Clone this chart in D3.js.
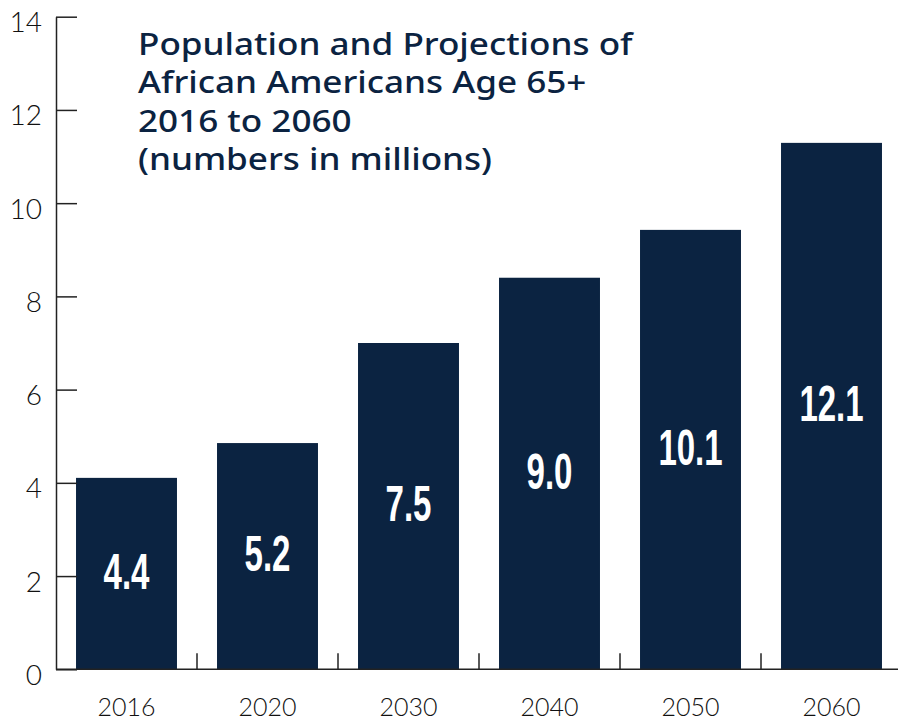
<!DOCTYPE html>
<html>
<head>
<meta charset="utf-8">
<script src="https://cdn.jsdelivr.net/npm/d3@7"></script>
<style>
  html, body { margin: 0; padding: 0; background: #ffffff; }
  svg { display: block; }
</style>
</head>
<body>
<svg id="chart" width="898" height="723"></svg>
<script>
// Population of African Americans age 65+, in millions
const years = ["2016", "2020", "2030", "2040", "2050", "2060"];
const population = [4.4, 5.2, 7.5, 9.0, 10.1, 12.1];
const valueLabels = ["4.4", "5.2", "7.5", "9.0", "10.1", "12.1"];
const axisTicks = [0, 2, 4, 6, 8, 10, 12, 14];
const titleLines = [
  "Population and Projections of",
  "African Americans Age 65+",
  "2016 to 2060",
  "(numbers in millions)"
];

const navy = "#0b2341";
const axisColor = "#222222";

const svg = d3.select("#chart");
const plotLeft = 56, plotRight = 902, plotTop = 16.7, plotBottom = 669.3;

// Horizontal bands, one per year
const x = d3.scaleBand()
  .domain(years)
  .range([plotLeft, plotRight])
  .paddingInner(0.284)
  .paddingOuter(0.142);

// Axis scale for the printed tick labels
const yAxisScale = d3.scaleLinear().domain([0, 14]).range([plotBottom, plotTop]);
// Bar heights are laid out on a 0–15 domain across the same plot height
const yBar = d3.scaleLinear().domain([0, 15]).range([plotBottom, plotTop]);

// Bars
svg.append("g")
  .selectAll("rect")
  .data(population)
  .join("rect")
  .attr("x", (d, i) => x(years[i]))
  .attr("y", d => yBar(d))
  .attr("width", x.bandwidth())
  .attr("height", d => yBar(0) - yBar(d))
  .attr("fill", navy);

// Value labels centred in each bar, in a condensed bold face
svg.append("g")
  .selectAll("text")
  .data(population)
  .join("text")
  .attr("transform", (d, i) => {
    const cx = x(years[i]) + x.bandwidth() / 2;
    const cy = (yBar(d) + yBar(0)) / 2 + 15;
    return `translate(${cx},${cy}) scale(0.66,1)`;
  })
  .attr("text-anchor", "middle")
  .attr("fill", "#ffffff")
  .attr("font-family", "'Liberation Sans', Arial, sans-serif")
  .attr("font-weight", "bold")
  .attr("font-size", 50)
  .text((d, i) => valueLabels[i]);

// Y axis with ticks pointing into the plot
const yAxis = d3.axisLeft(yAxisScale)
  .tickValues(axisTicks)
  .tickFormat(d3.format("d"))
  .tickSizeInner(-21)
  .tickSizeOuter(0)
  .tickPadding(14);

const gy = svg.append("g")
  .attr("transform", `translate(${plotLeft},0)`)
  .call(yAxis);
gy.select(".domain").attr("stroke", axisColor).attr("stroke-width", 1.5);
gy.selectAll(".tick line").attr("stroke", axisColor).attr("stroke-width", 1.5);
gy.selectAll(".tick text")
  .attr("dy", 15)
  .attr("fill", "#111111")
  .attr("font-family", "Lato, 'Open Sans', sans-serif")
  .attr("font-weight", 300)
  .attr("font-size", 28);

// X axis: baseline with short upward ticks between the bars
const xBoundary = d3.scaleLinear().domain([0, years.length]).range([plotLeft, plotRight]);
const gx = svg.append("g");
gx.append("line")
  .attr("x1", plotLeft).attr("x2", plotRight)
  .attr("y1", plotBottom).attr("y2", plotBottom)
  .attr("stroke", axisColor).attr("stroke-width", 1.5);
gx.selectAll("line.sep")
  .data(d3.range(1, years.length))
  .join("line")
  .attr("class", "sep")
  .attr("x1", d => xBoundary(d)).attr("x2", d => xBoundary(d))
  .attr("y1", plotBottom).attr("y2", plotBottom - 16)
  .attr("stroke", axisColor).attr("stroke-width", 1.5);
gx.selectAll("text")
  .data(years)
  .join("text")
  .attr("x", d => x(d) + x.bandwidth() / 2)
  .attr("y", 716)
  .attr("text-anchor", "middle")
  .attr("fill", "#111111")
  .attr("font-family", "Lato, 'Open Sans', sans-serif")
  .attr("font-weight", 300)
  .attr("font-size", 25)
  .text(d => d);

// Title block, set in a wide medium-weight sans
svg.append("g")
  .attr("transform", "translate(138,0) scale(1.15,1)")
  .selectAll("text")
  .data(titleLines)
  .join("text")
  .attr("x", 0)
  .attr("y", (d, i) => 55 + i * 38.3)
  .attr("fill", navy)
  .attr("font-family", "'Noto Sans', 'Open Sans', sans-serif")
  .attr("font-weight", 500)
  .attr("font-size", 30.5)
  .text(d => d);
</script>
</body>
</html>
